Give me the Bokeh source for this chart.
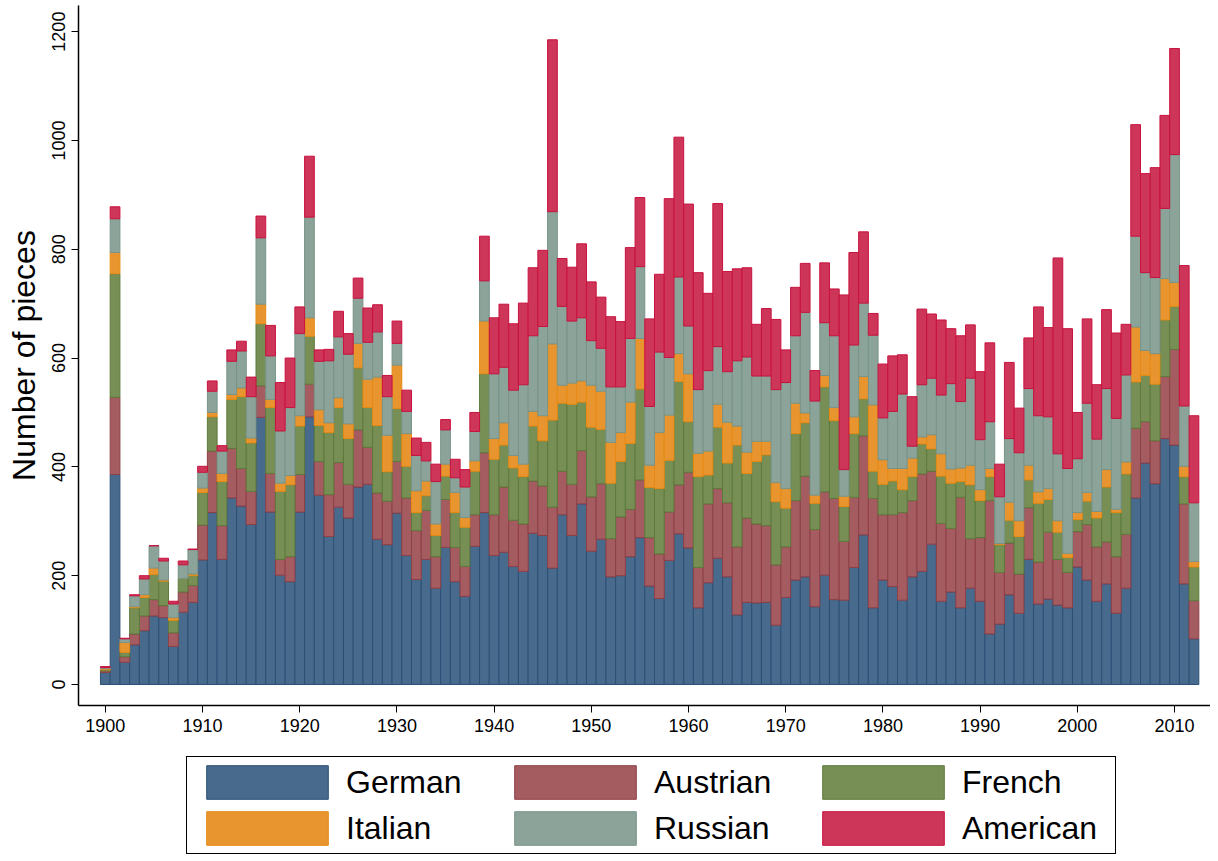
from bokeh.plotting import figure
from bokeh.models import ColumnDataSource, FixedTicker, Range1d, Legend
from bokeh.layouts import column
from bokeh.embed import file_html
from bokeh.resources import INLINE

years = list(range(1900, 2013))

german = [22, 386, 41, 73, 99, 126, 123, 70, 133, 151,
          229, 316, 230, 343, 328, 294, 491, 317, 201, 189,
          317, 492, 348, 272, 326, 306, 363, 368, 267, 257,
          315, 237, 193, 230, 177, 252, 189, 162, 254, 316,
          237, 243, 217, 208, 278, 274, 214, 312, 274, 332,
          245, 267, 198, 200, 235, 270, 181, 158, 228, 277,
          251, 141, 187, 232, 198, 128, 151, 150, 151, 109,
          160, 192, 198, 143, 201, 156, 155, 215, 275, 141,
          192, 180, 155, 198, 208, 258, 153, 170, 141, 177,
          153, 93, 111, 165, 131, 230, 148, 157, 146, 141,
          216, 192, 153, 185, 131, 177, 343, 407, 369, 452,
          440, 185, 84]
austrian = [3, 142, 10, 20, 27, 30, 22, 25, 37, 31,
            64, 113, 62, 91, 69, 61, 58, 71, 29, 46,
            69, 60, 62, 77, 82, 62, 105, 68, 85, 80,
            95, 106, 90, 90, 58, 88, 63, 55, 58, 110,
            75, 120, 85, 87, 96, 91, 112, 80, 94, 98,
            100, 102, 70, 108, 87, 106, 89, 82, 89, 90,
            139, 74, 145, 128, 136, 125, 155, 145, 141, 111,
            93, 146, 185, 142, 153, 186, 108, 129, 182, 201,
            120, 132, 161, 140, 179, 134, 143, 117, 203, 91,
            117, 245, 95, 95, 72, 95, 77, 123, 84, 65,
            65, 102, 100, 77, 104, 99, 128, 76, 79, 114,
            176, 147, 70]
french = [2, 227, 8, 48, 34, 46, 45, 23, 25, 18,
          60, 63, 81, 90, 132, 89, 114, 121, 125, 132,
          89, 88, 66, 114, 101, 84, 114, 73, 124, 54,
          97, 58, 33, 27, 39, 43, 64, 72, 80, 145,
          102, 77, 96, 87, 101, 83, 160, 125, 147, 89,
          128, 100, 102, 102, 121, 167, 92, 120, 95, 190,
          93, 167, 53, 113, 73, 187, 82, 115, 130, 116,
          71, 123, 98, 48, 193, 143, 64, 117, 68, 50,
          56, 62, 42, 44, 55, 41, 87, 83, 29, 99,
          68, 44, 51, 42, 69, 51, 108, 60, 50, 27,
          22, 43, 53, 101, 81, 111, 85, 85, 104, 104,
          79, 50, 62]
italian = [2, 39, 18, 2, 5, 12, 2, 5, 0, 3,
           8, 8, 15, 9, 16, 9, 36, 15, 15, 17,
           19, 34, 29, 18, 18, 27, 45, 52, 89, 67,
           80, 60, 40, 27, 21, 22, 37, 18, 19, 97,
           38, 41, 23, 23, 27, 46, 140, 33, 39, 39,
           77, 70, 75, 53, 76, 93, 41, 103, 83, 51,
           88, 43, 44, 42, 75, 35, 39, 37, 25, 35,
           36, 56, 18, 15, 21, 24, 19, 31, 41, 122,
           45, 23, 39, 34, 13, 26, 41, 26, 25, 36,
           20, 15, 2, 33, 29, 27, 21, 20, 21, 8,
           13, 16, 12, 32, 6, 22, 101, 46, 56, 76,
           44, 19, 10]
russian = [2, 62, 7, 20, 29, 41, 35, 25, 25, 45,
           29, 39, 41, 61, 68, 76, 122, 80, 96, 125,
           151, 185, 89, 114, 112, 128, 83, 68, 83, 71,
           40, 41, 65, 37, 78, 63, 27, 56, 54, 74,
           119, 102, 120, 146, 139, 164, 243, 145, 114, 116,
           82, 79, 102, 84, 117, 132, 108, 148, 106, 141,
           88, 117, 148, 106, 93, 120, 175, 120, 120, 171,
           195, 124, 185, 173, 97, 132, 49, 132, 135, 128,
           77, 105, 137, 22, 96, 104, 108, 157, 122, 160,
           92, 86, 86, 117, 125, 141, 140, 132, 123, 156,
           99, 164, 133, 149, 167, 160, 167, 143, 140, 129,
           235, 111, 108]
american = [2, 22, 1, 2, 6, 0, 5, 5, 7, 1,
            11, 19, 10, 21, 18, 36, 40, 56, 89, 91,
            49, 112, 21, 21, 47, 38, 37, 63, 50, 39,
            41, 39, 32, 34, 32, 19, 34, 32, 35, 82,
            103, 116, 122, 150, 125, 140, 316, 88, 99, 136,
            108, 94, 129, 120, 167, 127, 161, 143, 292, 257,
            224, 215, 142, 263, 184, 169, 164, 95, 124, 129,
            60, 89, 90, 56, 110, 86, 321, 170, 131, 40,
            99, 102, 72, 91, 139, 118, 138, 101, 121, 98,
            125, 145, 60, 140, 82, 93, 200, 164, 360, 257,
            85, 155, 100, 145, 157, 93, 205, 182, 202, 171,
            195, 258, 160]

series = ["German", "Austrian", "French", "Italian", "Russian", "American"]
x_ticks = list(range(1900, 2011, 10))
y_ticks = [0, 200, 400, 600, 800, 1000, 1200]

fills = ["#486a8c", "#a45c61", "#778f55", "#e9952f", "#8ba398", "#cd3559"]
lines = ["#2b5077", "#8f3f46", "#5d7a3b", "#e68a13", "#789489", "#c9123e"]

src = ColumnDataSource(dict(year=years, German=german, Austrian=austrian,
                            French=french, Italian=italian, Russian=russian,
                            American=american))

FONT = "Liberation Sans"

p = figure(frame_width=1132, frame_height=700, output_backend="svg",
           toolbar_location=None,
           x_range=Range1d(1897.24, 2013.7), y_range=Range1d(-38.6, 1248),
           min_border_left=78, min_border_right=0, min_border_top=5,
           min_border_bottom=40)

rs = p.vbar_stack(series, x="year", width=1.0, source=src,
                  fill_color=fills, line_color=lines, line_width=1)

p.outline_line_color = None
p.xgrid.visible = False
p.ygrid.visible = False
p.background_fill_color = "white"
p.border_fill_color = "white"

p.xaxis.ticker = FixedTicker(ticks=x_ticks)
p.yaxis.ticker = FixedTicker(ticks=y_ticks)
for ax in (p.xaxis[0], p.yaxis[0]):
    ax.axis_line_color = "black"
    ax.axis_line_width = 1.5
    ax.major_tick_line_color = "black"
    ax.major_tick_line_width = 1
    ax.major_tick_out = 7
    ax.major_tick_in = 0
    ax.minor_tick_line_color = None
    ax.major_label_text_font = FONT
    ax.major_label_text_font_size = "18px"
    ax.major_label_text_color = "black"
    ax.major_label_standoff = 6

p.yaxis.major_label_orientation = "vertical"
p.yaxis.axis_label = "Number of pieces"
p.yaxis.axis_label_text_font = FONT
p.yaxis.axis_label_text_font_size = "32px"
p.yaxis.axis_label_text_font_style = "normal"
p.yaxis.axis_label_text_color = "black"
p.yaxis.axis_label_standoff = 8

# strip under the chart that holds the legend; its bars lie outside its view
lf = figure(width=1210, height=112, output_backend="svg", toolbar_location=None,
            x_axis_type=None, y_axis_type=None,
            x_range=Range1d(0, 1), y_range=Range1d(0, 1),
            min_border_left=0, min_border_right=0, min_border_top=0,
            min_border_bottom=0)
lf.outline_line_color = None
lf.xgrid.visible = False
lf.ygrid.visible = False
proxies = lf.vbar_stack(series, x="year", width=1.0, source=src,
                        fill_color=fills, line_color=lines, line_width=1)

legend = Legend(items=[(name, [r]) for name, r in zip(series, proxies)],
                orientation="horizontal", ncols=3, location=(108, 3),
                glyph_width=152, glyph_height=42, label_standoff=3,
                label_width=149, label_height=42, spacing=4, padding=4,
                margin=0, border_line_color="black", border_line_width=1.5,
                border_line_alpha=1.0,
                background_fill_color="white", background_fill_alpha=1.0,
                label_text_font=FONT, label_text_font_size="32px",
                label_text_color="black")
lf.add_layout(legend)

layout = column(p, lf, spacing=0)
open("out.html", "w").write(file_html(layout, INLINE))
